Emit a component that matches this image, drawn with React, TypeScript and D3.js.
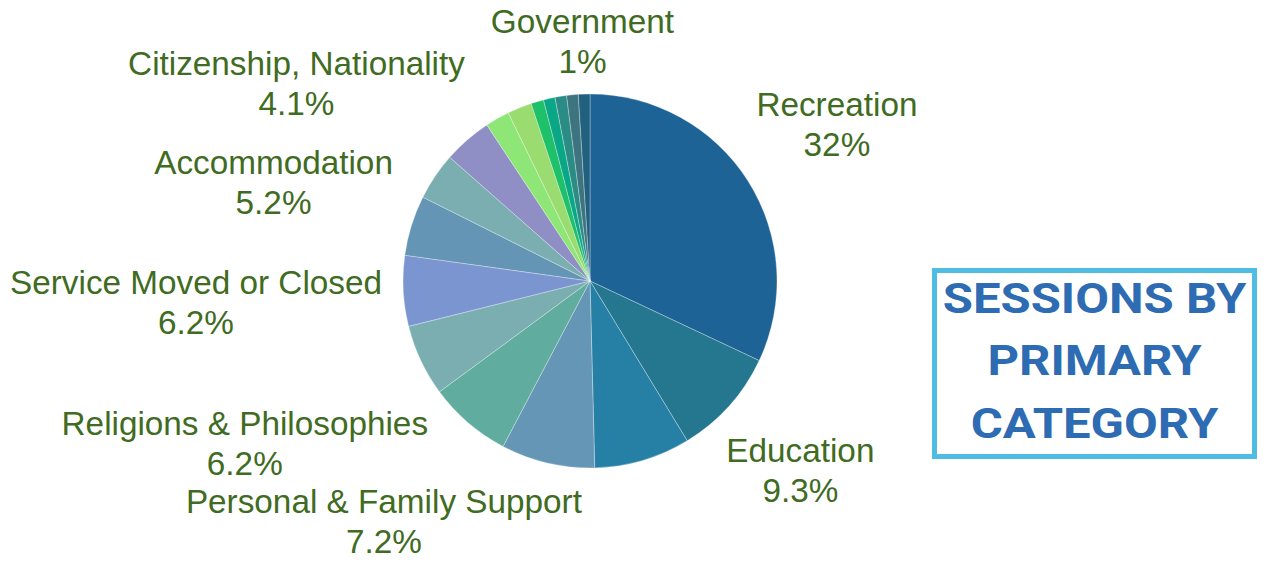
import * as d3 from "d3";
import React from "react";

const categories = [
  "Recreation",
  "Education",
  "Health",
  "Employment",
  "Personal & Family Support",
  "Religions & Philosophies",
  "Service Moved or Closed",
  "Accommodation",
  "Citizenship, Nationality",
  "Community",
  "Legal",
  "Finance",
  "Transport",
  "Disability",
  "Environment",
  "Emergency",
  "Government",
];
const shares = [32, 9.3, 8.3, 8.1, 7.2, 6.2, 6.1, 5.2, 4.1, 4.2, 2.1, 2.1, 1.1, 1.0, 1.0, 1.0, 1.0];
const shareLabels = ["32%", "9.3%", "", "", "7.2%", "6.2%", "6.2%", "5.2%", "4.1%", "", "", "", "", "", "", "", "1%"];
const colors = [
  "#1e6396", "#25768f", "#2680a5", "#6596b6", "#60ac9f", "#7aaeb0", "#7a95d0", "#6495b5",
  "#7aaeb0", "#8f8fc6", "#8ee677", "#9adc70", "#1ec06a", "#0aa787", "#2a8c85", "#3d7480", "#22607f",
];
const titleLines = ["SESSIONS BY", "PRIMARY", "CATEGORY"];

const W = 1268;
const H = 573;
const cx = 590;
const cy = 281;
const R = 187;
const labelFont = 33.3;
const labelGap = 40;
const capH = labelFont * 0.716;
const labelDist = 208; // how far the nearest edge of a label box sits from the centre

let ctx: CanvasRenderingContext2D | null = null;
function textWidth(s: string) {
  if (!ctx) ctx = document.createElement("canvas").getContext("2d");
  if (!ctx) return s.length * labelFont * 0.5;
  ctx.font = `${labelFont}px "Liberation Sans", Arial, sans-serif`;
  return ctx.measureText(s).width;
}

// distance from the pie centre to the nearest point of a box centred at (x, y)
function nearest(x: number, y: number, hw: number, hh: number) {
  const nx = Math.max(x - hw, Math.min(0, x + hw));
  const ny = Math.max(y - hh, Math.min(0, y + hh));
  return Math.hypot(nx, ny);
}

export default function App() {
  const rows = categories.map((name, i) => ({ name, value: shares[i], label: shareLabels[i], color: colors[i] }));
  const pie = d3.pie<(typeof rows)[number]>().value((d) => d.value).sort(null);
  const arcs = pie(rows);
  const arc = d3.arc<d3.PieArcDatum<(typeof rows)[number]>>().innerRadius(0).outerRadius(R);

  const blockH = labelGap + capH;
  const labels = arcs
    .filter((a) => a.data.label)
    .map((a) => {
      const mid = (a.startAngle + a.endAngle) / 2;
      const dx = Math.sin(mid);
      const dy = -Math.cos(mid);
      const hw = Math.max(textWidth(a.data.name), textWidth(a.data.label)) / 2;
      const hh = blockH / 2;
      // push the box out along the slice's mid ray until it clears the pie
      let lo = 0;
      let hi = 1000;
      for (let k = 0; k < 40; k++) {
        const t = (lo + hi) / 2;
        if (nearest(dx * t, dy * t, hw, hh) < labelDist) lo = t;
        else hi = t;
      }
      return { name: a.data.name, pct: a.data.label, x: cx + dx * hi, y: cy + dy * hi };
    });

  return (
    <svg width={W} height={H} style={{ position: "fixed", left: 0, top: 0, background: "#fff" }}>
      <g transform={`translate(${cx},${cy})`}>
        {arcs.map((a, i) => (
          <path key={i} d={arc(a) || ""} fill={a.data.color} stroke="#ffffff" strokeOpacity={0.5} strokeWidth={0.6} />
        ))}
      </g>
      <g fontFamily='"Liberation Sans", Arial, sans-serif' fontSize={labelFont} fill="#3f6b22" textAnchor="middle">
        {labels.map((l) => (
          <text key={l.name} x={l.x}>
            <tspan x={l.x} y={l.y - blockH / 2 + capH}>{l.name}</tspan>
            <tspan x={l.x} y={l.y + blockH / 2}>{l.pct}</tspan>
          </text>
        ))}
      </g>
      <rect x={934.5} y={270.5} width={320} height={186} fill="none" stroke="#4fbde3" strokeWidth={5} />
      <g fontFamily="Roboto, sans-serif" fontWeight={700} fontSize={43} fill="#2d6bb2" textAnchor="middle">
        {titleLines.map((t, i) => (
          <text key={t} transform={`translate(1094.5,${312.5 + i * 62.5}) scale(1.14,1)`}>{t}</text>
        ))}
      </g>
    </svg>
  );
}
